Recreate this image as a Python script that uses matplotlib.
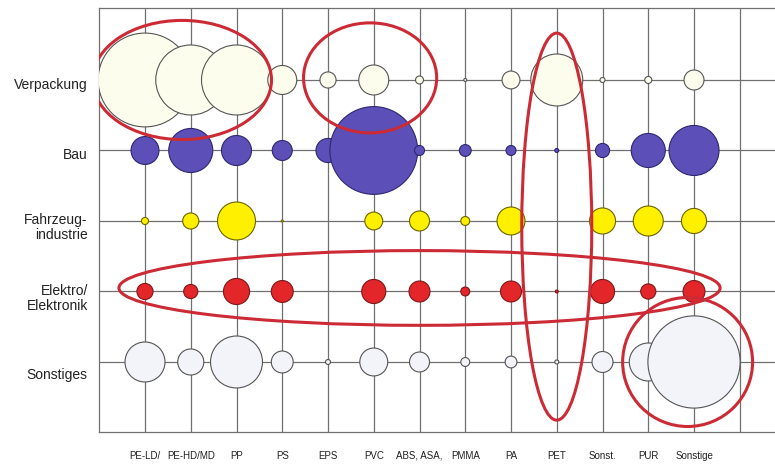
import numpy as np
import matplotlib
matplotlib.use('Agg')
import matplotlib.pyplot as plt
from matplotlib.patches import Ellipse

# Kunststoffsorten (Spalten) und Einsatzbereiche (Zeilen)
kunststoffe = ['PE-LD/', 'PE-HD/MD', 'PP', 'PS', 'EPS', 'PVC', 'ABS, ASA,',
               'PMMA', 'PA', 'PET', 'Sonst.', 'PUR', 'Sonstige']
bereiche = ['Verpackung', 'Bau', 'Fahrzeug-\nindustrie', 'Elektro/\nElektronik', 'Sonstiges']

# relative Verbrauchsmengen (Blasenflaeche)
verpackung = [88, 49, 49, 8.4, 2.6, 9.0, 0.64, 0.09, 3.2, 27, 0.25, 0.5, 4.0]
bau = [7.8, 19.4, 9.0, 4.0, 5.8, 77, 1.0, 1.4, 1.0, 0.16, 2.0, 11.6, 25]
fahrzeug = [0.5, 2.6, 14.4, 0.04, 0, 3.2, 4.0, 0.8, 7.8, 0, 6.8, 9.0, 6.3]
elektro = [2.6, 2.0, 6.8, 4.8, 0, 5.8, 4.4, 0.8, 4.4, 0.09, 5.8, 2.3, 4.8]
sonstiges = [16, 6.8, 27, 4.8, 0.25, 7.8, 4.0, 0.8, 1.4, 0.16, 4.4, 14.4, 85]

zeilen = [verpackung, bau, fahrzeug, elektro, sonstiges]
farben = ['#fdfdee', '#5c50b8', '#fff000', '#e3262a', '#f3f3fa']
kanten = ['#555555', '#2e2670', '#6b6400', '#7e1717', '#555555']

fig = plt.figure(figsize=(7.75, 4.65), dpi=100)
ax = fig.add_axes([99.25 / 775, 1 - 432 / 465, 1 - 99.25 / 775, 424 / 465])
ax.set_xlim(0, 14.77)
ax.set_ylim(4.993, -1.021)

# Raster
for i in range(1, 15):
    ax.axvline(i, color='#707070', lw=0.9, zorder=1)
for k in range(len(bereiche)):
    ax.axhline(k, color='#707070', lw=0.9, zorder=1)

# Blasen
x = np.arange(1, len(kunststoffe) + 1)
for k, werte in enumerate(zeilen):
    w = np.array(werte, dtype=float)
    ax.scatter(x, np.full_like(x, k, dtype=float), s=w * 51.84,
               c=farben[k], edgecolors=kanten[k], linewidths=0.8, zorder=3)

# rote Markierungen (cx, cy, Breite, Hoehe in Achseneinheiten)
markierungen = [(1.81, 0.0, 3.91, 1.69), (5.92, -0.03, 2.91, 1.56),
                (10.0, 2.08, 1.53, 5.49), (7.0, 2.95, 13.14, 1.06),
                (12.86, 4.0, 2.84, 1.83)]
for cx, cy, bw, bh in markierungen:
    ax.add_patch(Ellipse((cx, cy), bw, bh, fill=False, ec='#cc2b36', lw=2.2, zorder=5))

# Beschriftungen
ax.set_xticks(x)
ax.set_xticklabels(kunststoffe, fontsize=7, family='Liberation Sans', color='#222222')
ax.tick_params(axis='x', length=0, pad=13.5)
ax.set_yticks([])
label_dy = [0.07, 0.07, 0.09, 0.1, 0.18]
for k, name in enumerate(bereiche):
    ax.text(-0.25, k + label_dy[k], name, ha='right', va='center', fontsize=10,
            family='Liberation Sans', color='#222222', linespacing=1.1, clip_on=False)

for s in ['top', 'bottom', 'left']:
    ax.spines[s].set_color('#707070')
    ax.spines[s].set_linewidth(0.9)
ax.spines['right'].set_visible(False)

fig.savefig('out.png', dpi=100)
